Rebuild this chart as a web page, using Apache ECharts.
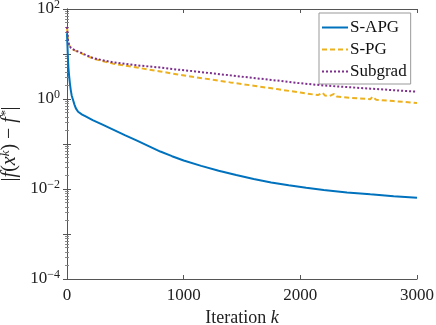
<!DOCTYPE html>
<html>
<head>
<meta charset="utf-8">
<script src="https://cdn.jsdelivr.net/npm/echarts@6/dist/echarts.min.js"></script>
<style>
  html, body { margin: 0; padding: 0; background: #fff; }
  #chart { width: 436px; height: 325px; }
</style>
</head>
<body>
<div id="chart"></div>
<script>
// S-APG
const apgIter = [0, 4, 8, 12, 18, 25, 32, 40, 47, 52, 58, 64, 70, 76, 84, 95, 110, 130, 160, 220, 300, 400, 500, 600, 700,
  800, 900, 1000, 1150, 1300, 1450, 1600, 1750, 1900, 2050, 2200, 2400, 2600, 2800, 3000]
const apgVals = [29, 15, 8, 5, 3.3, 2.2, 1.6, 1.2, 1.25, 0.95, 1.0, 0.75, 0.8, 0.62, 0.6, 0.52, 0.48, 0.45, 0.41, 0.34, 0.272, 0.206, 0.156, 0.119, 0.090,
  0.068, 0.0536, 0.043, 0.0327, 0.0255, 0.0204, 0.0167, 0.014, 0.0121, 0.0106, 0.0095, 0.0084, 0.0076, 0.0069, 0.0064]

// S-PG
const spgIter = [0, 5, 10, 20, 35, 55, 80, 110, 150, 220, 300, 400, 500, 600, 700, 800, 950, 1100, 1250, 1400, 1600, 1800,
  2000, 2150, 2190, 2210, 2250, 2290, 2310, 2350, 2500, 2600, 2620, 2650, 2800, 3000]
const spgVals = [40, 27, 18.5, 15.5, 13.5, 12.5, 11.6, 10.8, 9.6, 8.0, 7.0, 6.1, 5.5, 5.0, 4.5, 4.1, 3.5, 3.05, 2.67, 2.34, 1.97, 1.66,
  1.39, 1.22, 1.38, 1.20, 1.17, 1.30, 1.14, 1.11, 1.03, 0.99, 1.13, 0.96, 0.90, 0.81]

// Subgrad
const subIter = [0, 5, 10, 20, 35, 55, 80, 110, 150, 220, 300, 400, 500, 600, 700, 800, 950, 1100, 1250, 1400, 1600, 1800,
  2000, 2200, 2400, 2600, 2800, 3000]
const subVals = [40, 28, 19, 15.5, 13.6, 12.6, 11.7, 11.0, 9.8, 8.2, 7.3, 6.5, 6.0, 5.6, 5.3, 5.0, 4.5, 4.1, 3.7, 3.35, 2.93, 2.57,
  2.24, 2.0, 1.84, 1.70, 1.57, 1.45]

const xTicks = [0, 1000, 2000, 3000]
const yMin = 1e-4
const yMax = 1e2

function pairs(ks, vals) {
  return ks.map((k, i) => [k, vals[i]])
}

const font = 'Liberation Serif'
const axisColor = '#555'

const chart = echarts.init(document.getElementById('chart'))

const option = {
  animation: false,
  textStyle: { fontFamily: font },
  grid: { left: 67, right: 19, top: 9, bottom: 46, outerBoundsMode: 'none', containLabel: false },
  legend: {
    orient: 'vertical',
    left: 319,
    top: 13,
    width: 92,
    padding: [6, 4, 4, 2],
    itemWidth: 26,
    itemHeight: 10,
    itemGap: 5,
    borderColor: '#999',
    borderWidth: 1,
    backgroundColor: '#fff',
    itemStyle: { color: 'transparent', borderWidth: 0 },
    textStyle: { fontFamily: font, fontSize: 17, color: '#111', padding: [0, 0, 0, -3] },
    data: ['S-APG', 'S-PG', 'Subgrad']
  },
  xAxis: [{
    type: 'value',
    min: 0,
    max: 3000,
    interval: 1000,
    name: 'Iteration {i|k}',
    nameLocation: 'middle',
    nameGap: 17,
    nameTextStyle: {
      fontFamily: font, fontSize: 18, color: '#222',
      rich: { i: { fontFamily: font, fontStyle: 'italic', fontSize: 18, color: '#222' } }
    },
    axisLine: { lineStyle: { color: axisColor, width: 1 } },
    axisTick: { inside: true, length: 4, lineStyle: { color: axisColor } },
    axisLabel: {
      fontFamily: font, fontSize: 17, color: '#222', margin: 8,
      formatter: v => xTicks.includes(v) ? String(v) : ''
    },
    splitLine: { show: false }
  }, {
    type: 'value',
    position: 'top',
    min: 0,
    max: 3000,
    interval: 1000,
    axisLine: { lineStyle: { color: axisColor, width: 1 } },
    axisTick: { inside: true, length: 4, lineStyle: { color: axisColor } },
    axisLabel: { show: false },
    splitLine: { show: false }
  }],
  yAxis: [{
    type: 'log',
    logBase: 10,
    min: yMin,
    max: yMax,
    name: '|{i|f}({i|x}{s|k}) − {i|f}{s|*}|',
    nameLocation: 'middle',
    nameRotate: 90,
    nameGap: 44,
    nameTextStyle: {
      fontFamily: font, fontSize: 20, color: '#222',
      rich: {
        i: { fontFamily: font, fontStyle: 'italic', fontSize: 20, color: '#222' },
        s: { fontFamily: font, fontStyle: 'italic', fontSize: 13, color: '#222', verticalAlign: 'top', padding: [0, 0, 8, 0] }
      }
    },
    axisLine: { show: true, lineStyle: { color: axisColor, width: 1 } },
    axisTick: { inside: true, length: 4, lineStyle: { color: axisColor } },
    minorTick: { show: true, splitNumber: 9, length: 2, lineStyle: { color: '#888' } },
    axisLabel: {
      margin: 7,
      formatter: v => {
        const e = Math.round(Math.log10(v))
        if (e % 2 !== 0) return ''
        return '{b|10}{e|' + (e < 0 ? '−' + (-e) : e) + '}'
      },
      rich: {
        b: { fontFamily: font, fontSize: 17, color: '#222' },
        e: { fontFamily: font, fontSize: 12, color: '#222', verticalAlign: 'top', padding: [0, 0, 9, 0] }
      }
    },
    splitLine: { show: false }
  }, {
    type: 'log',
    logBase: 10,
    min: yMin,
    max: yMax,
    position: 'right',
    axisLine: { show: true, lineStyle: { color: axisColor, width: 1 } },
    axisTick: { inside: true, length: 4, lineStyle: { color: axisColor } },
    minorTick: { show: true, splitNumber: 9, length: 2, lineStyle: { color: '#888' } },
    axisLabel: { show: false },
    splitLine: { show: false }
  }],
  series: [{
    name: 'S-APG',
    type: 'line',
    showSymbol: false,
    symbol: 'none',
    color: '#0072BD',
    lineStyle: { width: 2, color: '#0072BD' },
    data: pairs(apgIter, apgVals),
    z: 5
  }, {
    name: 'S-PG',
    type: 'line',
    showSymbol: false,
    symbol: 'none',
    color: '#EDB120',
    lineStyle: { width: 2, color: '#EDB120', type: [5, 3] },
    data: pairs(spgIter, spgVals),
    z: 3
  }, {
    name: 'Subgrad',
    type: 'line',
    showSymbol: false,
    symbol: 'none',
    color: '#7E2F8E',
    lineStyle: { width: 2, color: '#7E2F8E', type: [2, 2] },
    data: pairs(subIter, subVals),
    z: 4
  }]
}

chart.setOption(option)
</script>
</body>
</html>
